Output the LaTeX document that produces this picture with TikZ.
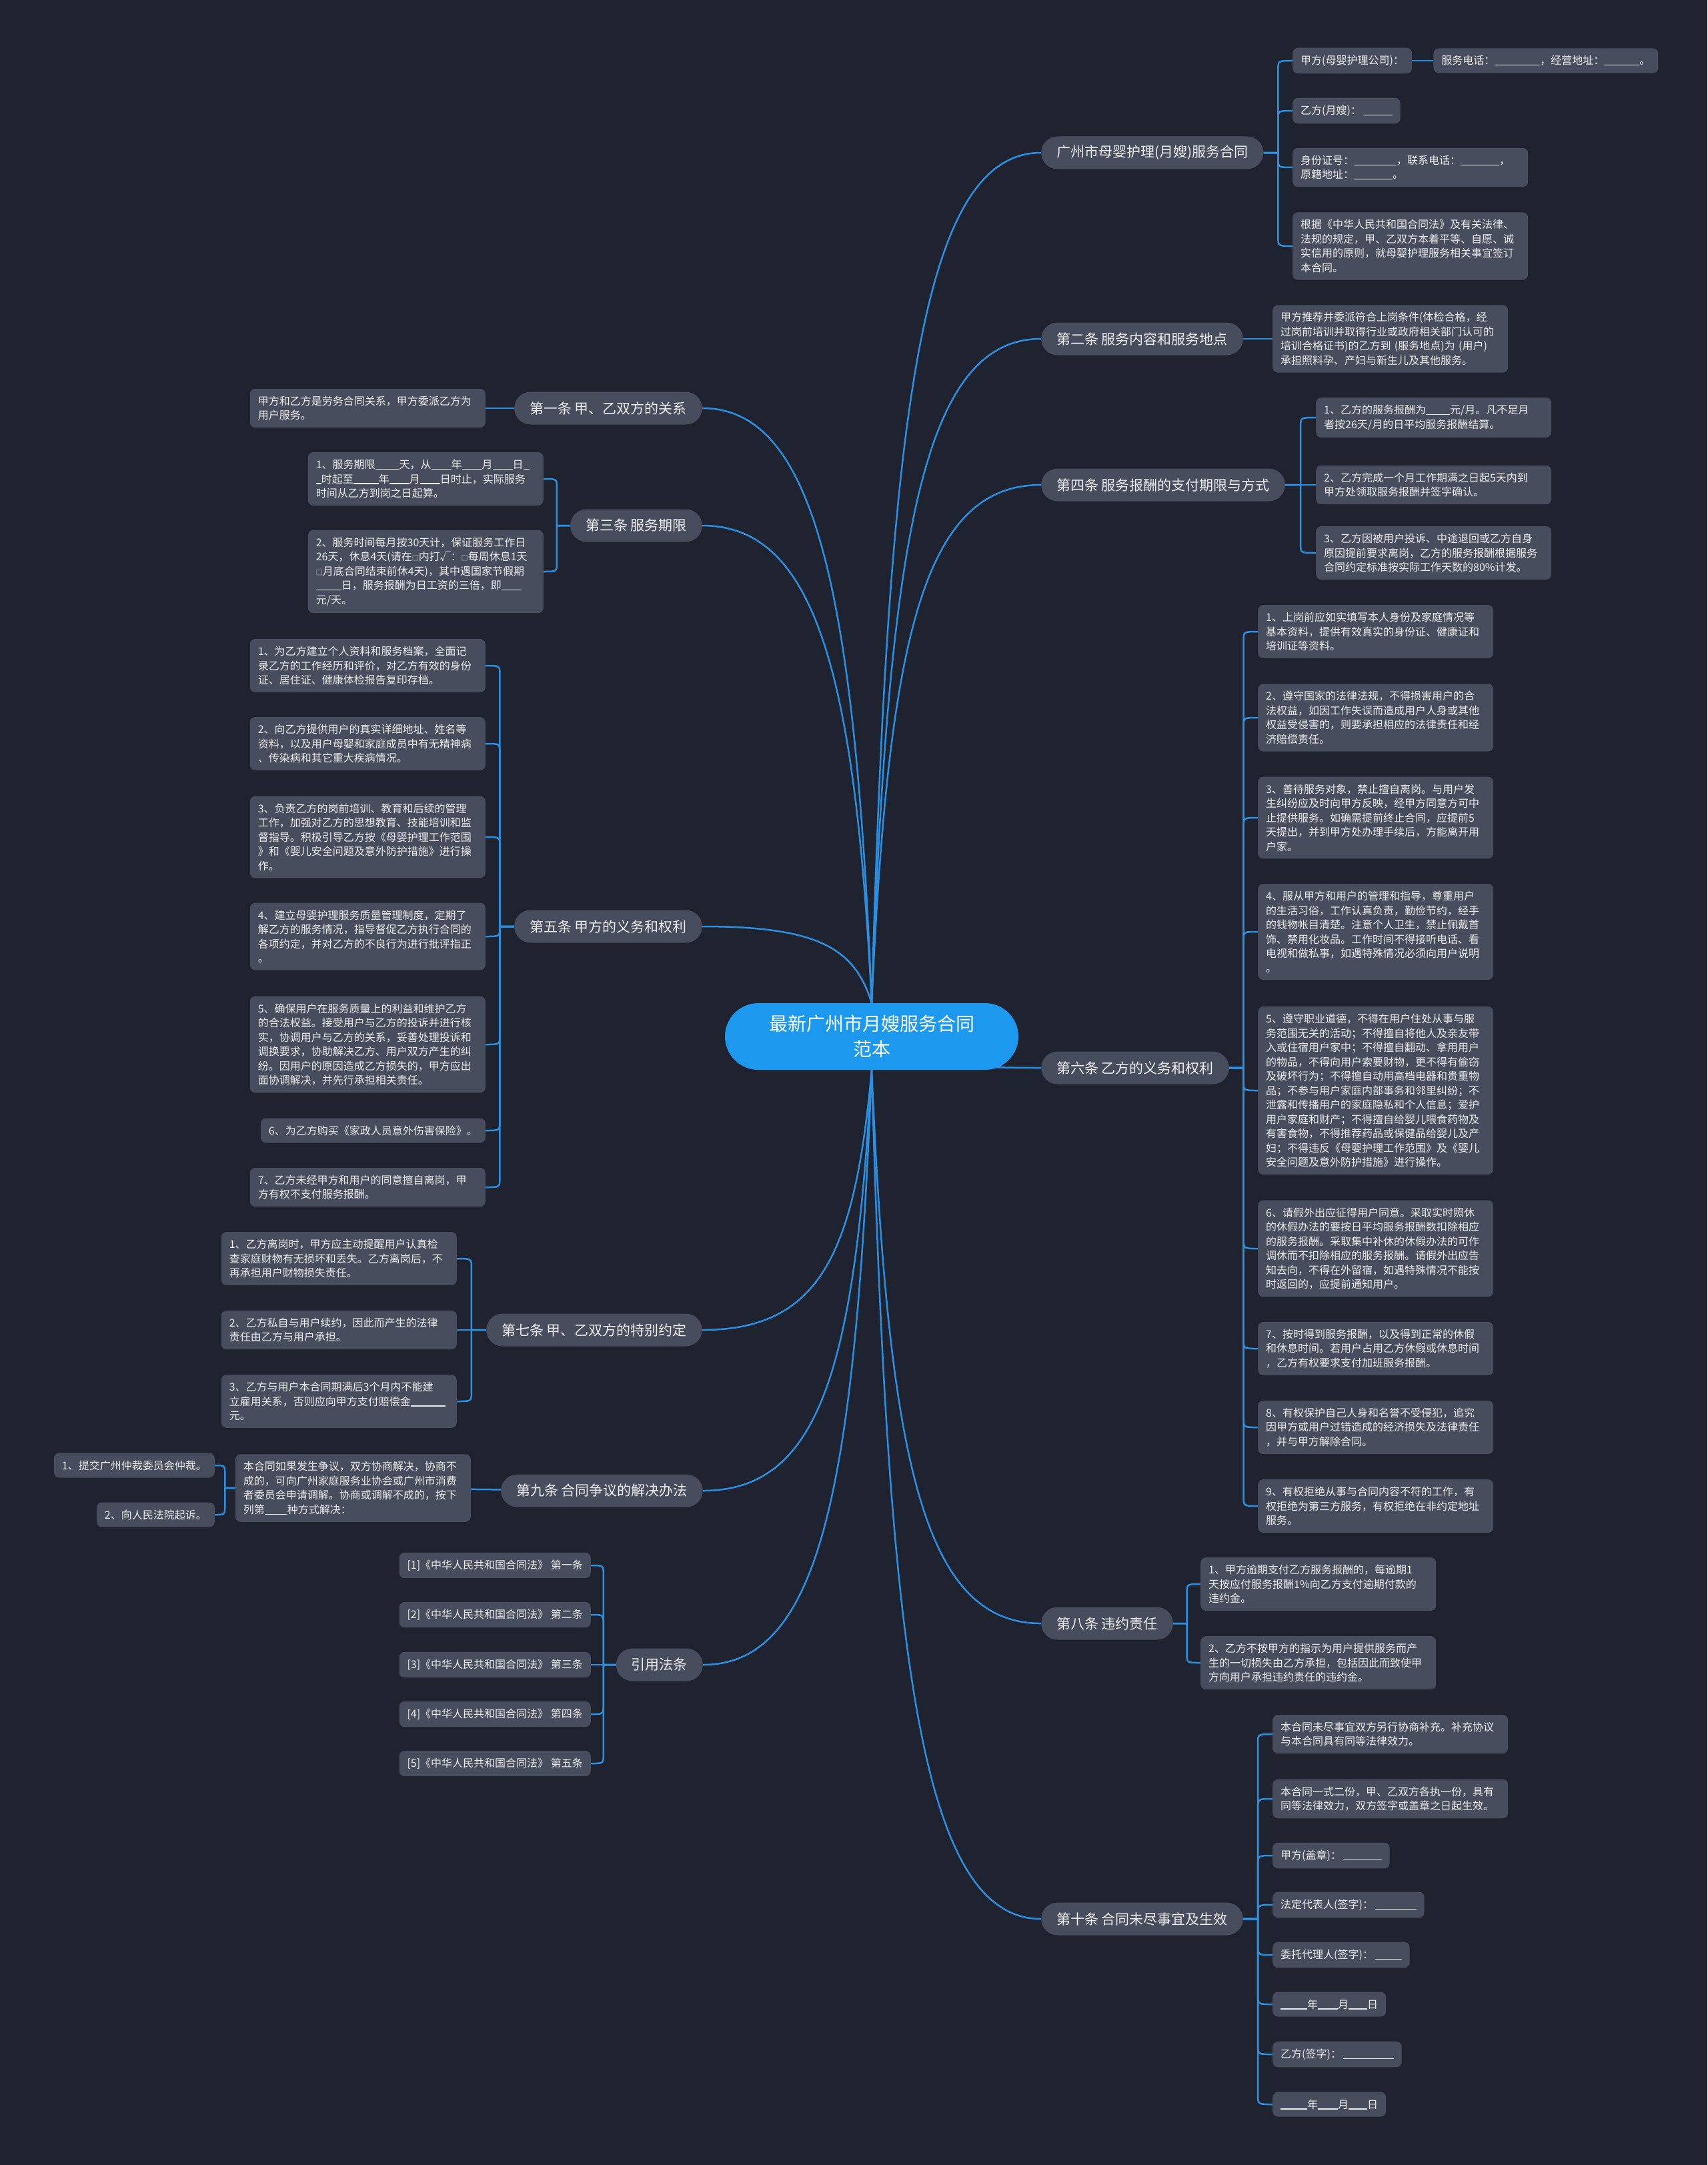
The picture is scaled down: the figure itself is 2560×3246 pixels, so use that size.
\documentclass[tikz,border=0pt]{standalone}
\usepackage{fontspec}
\setmainfont{Noto Sans CJK SC}
\usepackage{xcolor}
\definecolor{canvasbg}{HTML}{1F2330}
\definecolor{nodebg}{HTML}{474D5C}
\definecolor{linkblue}{HTML}{2A90E2}
\definecolor{topicblue}{HTML}{1C98EE}
\definecolor{ink}{HTML}{EDEEF0}
\usepackage{tikz}
\usetikzlibrary{
  positioning,
  calc,
  backgrounds
}

% blank line to fill in, and the small tick box
\newcommand{\fillin}[1]{\rule[-1.5pt]{#1pt}{1.2pt}}
\newcommand{\tickbox}{{\fontsize{10}{10}\selectfont □}}

% bracket connectors: parent -> child, to the right / to the left
\newcommand{\rconn}[2]{%
  \draw[conn] let \p1=(#1.east), \p2=(#2.west), \n1={((\x1)+(\x2))/2},
    \n2={(\y2)+max(-14,min(14,(\y1)-(\y2)))} in
    (\p1) -- ({\n1*1pt},\y1) -- ({\n1*1pt},{\n2*1pt}) .. controls ({\n1*1pt},\y2) .. (\p2);}
\newcommand{\lconn}[2]{%
  \draw[conn] let \p1=(#1.west), \p2=(#2.east), \n1={((\x1)+(\x2))/2},
    \n2={(\y2)+max(-14,min(14,(\y1)-(\y2)))} in
    (\p1) -- ({\n1*1pt},\y1) -- ({\n1*1pt},{\n2*1pt}) .. controls ({\n1*1pt},\y2) .. (\p2);}

\begin{document}
\begin{tikzpicture}[x=1pt, y=-1pt,
  topicbox/.style={fill=topicblue, text=white, rounded corners=50pt, minimum width=440pt, minimum height=100pt, align=center, font=\fontsize{28}{38}\selectfont},
  branchbox/.style={fill=nodebg, text=ink, rounded corners=24.5pt, minimum height=49pt, inner xsep=23pt, font=\fontsize{21}{26}\selectfont},
  leafbox/.style={fill=nodebg, text=ink, rounded corners=8pt, align=left, inner xsep=12pt, inner ysep=11pt, font=\fontsize{16}{21.5}\selectfont},
  widebox/.style={leafbox, text width=329pt},
  conn/.style={draw=linkblue, line width=2.5pt},
]
\useasboundingbox (0,0) rectangle (2560,3246);

% Root
\node[topicbox] (root) at (1307,1554) {最新广州市月嫂服务合同\\范本};

% Right branches
\node[branchbox, anchor=west] (b0) at (1561,229) {广州市母婴护理(月嫂)服务合同};
\node[branchbox, anchor=west] (b2) at (1561,508) {第二条 服务内容和服务地点};
\node[branchbox, anchor=west] (b4) at (1561,727) {第四条 服务报酬的支付期限与方式};
\node[branchbox, anchor=west] (b6) at (1561,1601) {第六条 乙方的义务和权利};
\node[branchbox, anchor=west] (b8) at (1561,2434) {第八条 违约责任};
\node[branchbox, anchor=west] (b10) at (1561,2877) {第十条 合同未尽事宜及生效};

% Left branches
\node[branchbox, anchor=east] (b1) at (1053,612) {第一条 甲、乙双方的关系};
\node[branchbox, anchor=east] (b3) at (1053,788) {第三条 服务期限};
\node[branchbox, anchor=east] (b5) at (1053,1389) {第五条 甲方的义务和权利};
\node[branchbox, anchor=east] (b7) at (1053,1994) {第七条 甲、乙双方的特别约定};
\node[branchbox, anchor=east] (b9) at (1054,2235) {第九条 合同争议的解决办法};
\node[branchbox, anchor=east] (b11) at (1054,2496) {引用法条};

% Contract header
\node[leafbox, anchor=west] (g0a) at (1938,91) {甲方(母婴护理公司)：};
\node[leafbox, right=32pt of g0a] (g0b) {服务电话：\fillin{68}，经营地址：\fillin{53}。};
\node[leafbox, anchor=west] (g0c) at (1938,166) {乙方(月嫂)：\,\fillin{44}};
\node[widebox, anchor=west] (g0d) at (1938,251) {身份证号：\fillin{64}，联系电话：\fillin{58}，\\原籍地址：\fillin{58}。};
\node[widebox, anchor=west] (g0e) at (1938,369) {根据《中华人民共和国合同法》及有关法律、\\法规的规定，甲、乙双方本着平等、自愿、诚\\实信用的原则，就母婴护理服务相关事宜签订\\本合同。};

% Article 2
\node[widebox, anchor=west] (g2a) at (1908,508) {甲方推荐并委派符合上岗条件(体检合格，经\\过岗前培训并取得行业或政府相关部门认可的\\培训合格证书)的乙方到~(服务地点)为~(用户)\\承担照料孕、产妇与新生儿及其他服务。};

% Article 4
\node[widebox, anchor=west] (g4a) at (1973,626) {1、乙方的服务报酬为\fillin{36}元/月。凡不足月\\者按26天/月的日平均服务报酬结算。};
\node[widebox, anchor=west] (g4b) at (1973,727) {2、乙方完成一个月工作期满之日起5天内到\\甲方处领取服务报酬并签字确认。};
\node[widebox, anchor=west] (g4c) at (1973,829) {3、乙方因被用户投诉、中途退回或乙方自身\\原因提前要求离岗，乙方的服务报酬根据服务\\合同约定标准按实际工作天数的80\%计发。};

% Article 6
\node[widebox, anchor=west] (g6a) at (1886,947) {1、上岗前应如实填写本人身份及家庭情况等\\基本资料，提供有效真实的身份证、健康证和\\培训证等资料。};
\node[widebox, anchor=west] (g6b) at (1886,1076) {2、遵守国家的法律法规，不得损害用户的合\\法权益，如因工作失误而造成用户人身或其他\\权益受侵害的，则要承担相应的法律责任和经\\济赔偿责任。};
\node[widebox, anchor=west] (g6c) at (1886,1226) {3、善待服务对象，禁止擅自离岗。与用户发\\生纠纷应及时向甲方反映，经甲方同意方可中\\止提供服务。如确需提前终止合同，应提前5\\天提出，并到甲方处办理手续后，方能离开用\\户家。};
\node[widebox, anchor=west] (g6d) at (1886,1397) {4、服从甲方和用户的管理和指导，尊重用户\\的生活习俗，工作认真负责，勤俭节约，经手\\的钱物帐目清楚。注意个人卫生，禁止佩戴首\\饰、禁用化妆品。工作时间不得接听电话、看\\电视和做私事，如遇特殊情况必须向用户说明\\。};
\node[widebox, anchor=west] (g6e) at (1886,1635) {5、遵守职业道德，不得在用户住处从事与服\\务范围无关的活动；不得擅自将他人及亲友带\\入或住宿用户家中；不得擅自翻动、拿用用户\\的物品，不得向用户索要财物，更不得有偷窃\\及破坏行为；不得擅自动用高档电器和贵重物\\品；不参与用户家庭内部事务和邻里纠纷；不\\泄露和传播用户的家庭隐私和个人信息；爱护\\用户家庭和财产；不得擅自给婴儿喂食药物及\\有害食物，不得推荐药品或保健品给婴儿及产\\妇；不得违反《母婴护理工作范围》及《婴儿\\安全问题及意外防护措施》进行操作。};
\node[widebox, anchor=west] (g6f) at (1886,1872) {6、请假外出应征得用户同意。采取实时照休\\的休假办法的要按日平均服务报酬数扣除相应\\的服务报酬。采取集中补休的休假办法的可作\\调休而不扣除相应的服务报酬。请假外出应告\\知去向，不得在外留宿，如遇特殊情况不能按\\时返回的，应提前通知用户。};
\node[widebox, anchor=west] (g6g) at (1886,2022) {7、按时得到服务报酬，以及得到正常的休假\\和休息时间。若用户占用乙方休假或休息时间\\，乙方有权要求支付加班服务报酬。};
\node[widebox, anchor=west] (g6h) at (1886,2140) {8、有权保护自己人身和名誉不受侵犯，追究\\因甲方或用户过错造成的经济损失及法律责任\\，并与甲方解除合同。};
\node[widebox, anchor=west] (g6i) at (1886,2258) {9、有权拒绝从事与合同内容不符的工作，有\\权拒绝为第三方服务，有权拒绝在非约定地址\\服务。};

% Article 8
\node[widebox, anchor=west] (g8a) at (1800,2375) {1、甲方逾期支付乙方服务报酬的，每逾期1\\天按应付服务报酬1\%向乙方支付逾期付款的\\违约金。};
\node[widebox, anchor=west] (g8b) at (1800,2493) {2、乙方不按甲方的指示为用户提供服务而产\\生的一切损失由乙方承担，包括因此而致使甲\\方向用户承担违约责任的违约金。};

% Article 10
\node[widebox, anchor=west] (g10a) at (1908,2600) {本合同未尽事宜双方另行协商补充。补充协议\\与本合同具有同等法律效力。};
\node[widebox, anchor=west] (g10b) at (1908,2697) {本合同一式二份，甲、乙双方各执一份，具有\\同等法律效力，双方签字或盖章之日起生效。};
\node[leafbox, anchor=west] (g10c) at (1908,2782) {甲方(盖章)：\,\fillin{58}};
\node[leafbox, anchor=west] (g10d) at (1908,2856) {法定代表人(签字)：\,\fillin{62}};
\node[leafbox, anchor=west] (g10e) at (1908,2931) {委托代理人(签字)：\,\fillin{40}};
\node[leafbox, anchor=west] (g10f) at (1908,3005) {\fillin{40}年\fillin{30}月\fillin{28}日};
\node[leafbox, anchor=west] (g10g) at (1908,3080) {乙方(签字)：\,\fillin{76}};
\node[leafbox, anchor=west] (g10h) at (1908,3155) {\fillin{40}年\fillin{30}月\fillin{28}日};

% Article 1
\node[widebox, anchor=east] (g1a) at (728,612) {甲方和乙方是劳务合同关系，甲方委派乙方为\\用户服务。};

% Article 3
\node[widebox, anchor=east] (g3a) at (815,718) {1、服务期限\fillin{36}天，从\fillin{30}年\fillin{30}月\fillin{30}日\fillin{9}\\\fillin{8}时起至\fillin{38}年\fillin{30}月\fillin{30}日时止，实际服务\\时间从乙方到岗之日起算。};
\node[widebox, anchor=east] (g3b) at (815,857) {2、服务时间每月按30天计，保证服务工作日\\26天，休息4天(请在\tickbox 内打√：\tickbox 每周休息1天\\\tickbox 月底合同结束前休4天)，其中遇国家节假期\\\fillin{38}日，服务报酬为日工资的三倍，即\fillin{30}\\元/天。};

% Article 5
\node[widebox, anchor=east] (g5a) at (728,998) {1、为乙方建立个人资料和服务档案，全面记\\录乙方的工作经历和评价，对乙方有效的身份\\证、居住证、健康体检报告复印存档。};
\node[widebox, anchor=east] (g5b) at (728,1115) {2、向乙方提供用户的真实详细地址、姓名等\\资料，以及用户母婴和家庭成员中有无精神病\\、传染病和其它重大疾病情况。};
\node[widebox, anchor=east] (g5c) at (728,1255) {3、负责乙方的岗前培训、教育和后续的管理\\工作，加强对乙方的思想教育、技能培训和监\\督指导。积极引导乙方按《母婴护理工作范围\\》和《婴儿安全问题及意外防护措施》进行操\\作。};
\node[widebox, anchor=east] (g5d) at (728,1404) {4、建立母婴护理服务质量管理制度，定期了\\解乙方的服务情况，指导督促乙方执行合同的\\各项约定，并对乙方的不良行为进行批评指正\\。};
\node[widebox, anchor=east] (g5e) at (728,1566) {5、确保用户在服务质量上的利益和维护乙方\\的合法权益。接受用户与乙方的投诉并进行核\\实，协调用户与乙方的关系，妥善处理投诉和\\调换要求，协助解决乙方、用户双方产生的纠\\纷。因用户的原因造成乙方损失的，甲方应出\\面协调解决，并先行承担相关责任。};
\node[leafbox, anchor=east] (g5f) at (728,1695) {6、为乙方购买《家政人员意外伤害保险》。};
\node[widebox, anchor=east] (g5g) at (728,1780) {7、乙方未经甲方和用户的同意擅自离岗，甲\\方有权不支付服务报酬。};

% Article 7
\node[widebox, anchor=east] (g7a) at (685,1887) {1、乙方离岗时，甲方应主动提醒用户认真检\\查家庭财物有无损坏和丢失。乙方离岗后，不\\再承担用户财物损失责任。};
\node[widebox, anchor=east] (g7b) at (685,1994) {2、乙方私自与用户续约，因此而产生的法律\\责任由乙方与用户承担。};
\node[widebox, anchor=east] (g7c) at (685,2101) {3、乙方与用户本合同期满后3个月内不能建\\立雇用关系，否则应向甲方支付赔偿金\fillin{52}\\元。};

% Article 9
\node[widebox, anchor=east] (g9a) at (706,2231) {本合同如果发生争议，双方协商解决，协商不\\成的，可向广州家庭服务业协会或广州市消费\\者委员会申请调解。协商或调解不成的，按下\\列第\fillin{34}种方式解决：};
\node[leafbox, anchor=east] (g9b) at (322,2197) {1、提交广州仲裁委员会仲裁。};
\node[leafbox, anchor=east] (g9c) at (322,2271) {2、向人民法院起诉。};

% Cited law
\node[leafbox, anchor=east] (g11a) at (886,2347) {[1]《中华人民共和国合同法》 第一条};
\node[leafbox, anchor=east] (g11b) at (886,2421) {[2]《中华人民共和国合同法》 第二条};
\node[leafbox, anchor=east] (g11c) at (886,2496) {[3]《中华人民共和国合同法》 第三条};
\node[leafbox, anchor=east] (g11d) at (886,2570) {[4]《中华人民共和国合同法》 第四条};
\node[leafbox, anchor=east] (g11e) at (886,2644) {[5]《中华人民共和国合同法》 第五条};

\begin{scope}[on background layer]
\fill[canvasbg] (0,0) rectangle (2560,3246);

% root to branches
\draw[conn] (root.north) .. controls (1332,612) and (1383,229) .. (b0.west);
\draw[conn] (root.north) .. controls (1332,807) and (1383,508) .. (b2.west);
\draw[conn] (root.north) .. controls (1332,960) and (1383,727) .. (b4.west);
\draw[conn] (root.center) .. controls (1332,1587) and (1383,1601) .. (b6.west);
\draw[conn] (root.south) .. controls (1332,2185) and (1383,2434) .. (b8.west);
\draw[conn] (root.south) .. controls (1332,2495) and (1383,2877) .. (b10.west);
\draw[conn] (root.north) .. controls (1282,880) and (1220,612) .. (b1.east);
\draw[conn] (root.north) .. controls (1282,1003) and (1220,788) .. (b3.east);
\draw[conn] (root.north) .. controls (1282,1424) and (1231,1389) .. (b5.east);
\draw[conn] (root.south) .. controls (1282,1877) and (1231,1994) .. (b7.east);
\draw[conn] (root.south) .. controls (1282,2046) and (1231,2235) .. (b9.east);
\draw[conn] (root.south) .. controls (1282,2228) and (1231,2496) .. (b11.east);

% branches to leaves
\foreach \c in {g0a,g0c,g0d,g0e} {\rconn{b0}{\c}}
\draw[conn] (g0a) -- (g0b);
\draw[conn] (b2) -- (g2a);
\foreach \c in {g4a,g4b,g4c} {\rconn{b4}{\c}}
\foreach \c in {g6a,g6b,g6c,g6d,g6e,g6f,g6g,g6h,g6i} {\rconn{b6}{\c}}
\foreach \c in {g8a,g8b} {\rconn{b8}{\c}}
\foreach \c in {g10a,g10b,g10c,g10d,g10e,g10f,g10g,g10h} {\rconn{b10}{\c}}
\draw[conn] (b1) -- (g1a);
\foreach \c in {g3a,g3b} {\lconn{b3}{\c}}
\foreach \c in {g5a,g5b,g5c,g5d,g5e,g5f,g5g} {\lconn{b5}{\c}}
\foreach \c in {g7a,g7b,g7c} {\lconn{b7}{\c}}
\draw[conn] (b9) -- (g9a);
\foreach \c in {g9b,g9c} {\lconn{g9a}{\c}}
\foreach \c in {g11a,g11b,g11c,g11d,g11e} {\lconn{b11}{\c}}
\end{scope}

\end{tikzpicture}
\end{document}
